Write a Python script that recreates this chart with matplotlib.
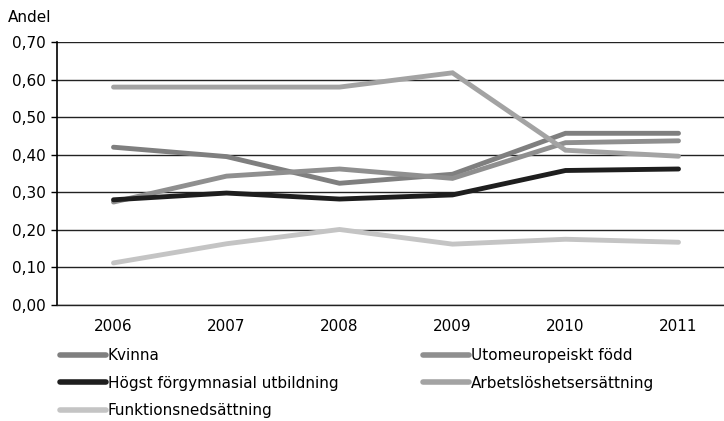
import matplotlib
matplotlib.use("Agg")
import matplotlib.pyplot as plt
from matplotlib.lines import Line2D

plt.rcParams['font.family'] = ['DejaVu Sans']

years = ['2006', '2007', '2008', '2009', '2010', '2011']
kvinna = [0.420, 0.395, 0.324, 0.348, 0.457, 0.457]
utomeuropeiskt = [0.274, 0.343, 0.362, 0.337, 0.432, 0.437]
hogst_forgymn = [0.280, 0.298, 0.282, 0.293, 0.358, 0.362]
arbetsloshet = [0.580, 0.580, 0.580, 0.618, 0.412, 0.396]
funktion = [0.112, 0.163, 0.201, 0.162, 0.175, 0.167]

names = ['Kvinna', 'Utomeuropeiskt född', 'Högst förgymnasial utbildning',
         'Arbetslöshetsersättning', 'Funktionsnedsättning']
series = [kvinna, utomeuropeiskt, hogst_forgymn, arbetsloshet, funktion]
colors = ['#7f7f7f', '#8f8f8f', '#1e1e1e', '#a3a3a3', '#c4c4c4']

fig = plt.figure(figsize=(7.24, 4.21), dpi=100)
ax = fig.add_axes([57/724, 1 - 305/421, 678/724, 263/421])

x = range(len(years))
for vals, c, n in zip(series, colors, names):
    ax.plot(x, vals, color=c, linewidth=3.5, solid_capstyle='round',
            solid_joinstyle='miter', label=n)

ax.set_xlim(-0.5, 5.5)
ax.set_ylim(0, 0.70)
ax.set_yticks([i / 10 for i in range(8)])
ax.yaxis.set_major_formatter(plt.FuncFormatter(lambda v, p: ('%.2f' % v).replace('.', ',')))
ax.set_xticks(list(x))
ax.set_xticklabels(years)
ax.tick_params(axis='both', labelsize=11)
ax.tick_params(axis='x', length=0, pad=10)
ax.tick_params(axis='y', length=4, width=1, color='black', pad=4)
ax.grid(axis='y', color='#222222', linewidth=1)
ax.set_axisbelow(True)
for s in ['top', 'right']:
    ax.spines[s].set_visible(False)
ax.spines['bottom'].set_color('#222222')
ax.spines['bottom'].set_linewidth(1)
ax.spines['left'].set_linewidth(1.2)

fig.text(8/724, 1 - 17/421, 'Andel', fontsize=11, va='center', ha='left')

handles = [Line2D([], [], color=c, linewidth=4, solid_capstyle='round') for c in colors]
opts = dict(loc='upper left', frameon=False, fontsize=11, handlelength=3.0,
            handletextpad=0.13, labelspacing=0.83, borderaxespad=0, borderpad=0)
left = fig.legend([handles[0], handles[2], handles[4]], [names[0], names[2], names[4]],
                  bbox_to_anchor=(60/724, 1 - 348/421), **opts)
right = fig.legend([handles[1], handles[3]], [names[1], names[3]],
                   bbox_to_anchor=(423/724, 1 - 348/421), **opts)

fig.savefig('out.png', dpi=100)
